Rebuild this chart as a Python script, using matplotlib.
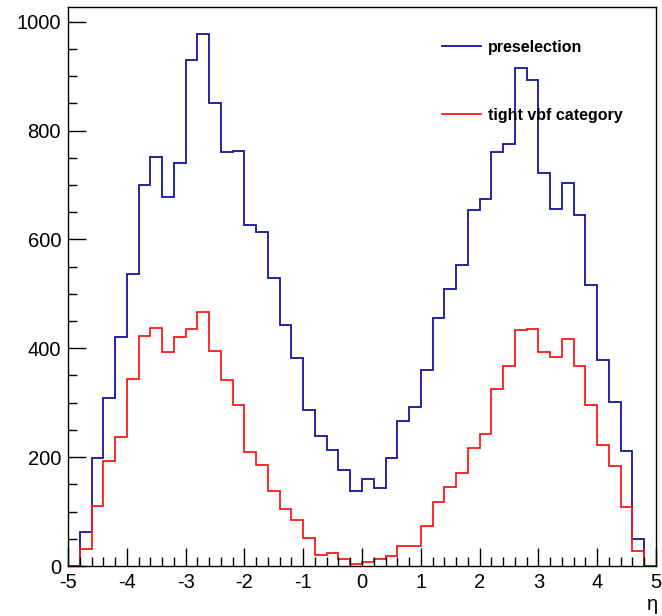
import numpy as np
import matplotlib
matplotlib.use("Agg")
import matplotlib.pyplot as plt
from matplotlib.ticker import MultipleLocator

plt.rcParams['font.family'] = ['Liberation Sans', 'DejaVu Sans']
plt.rcParams['axes.unicode_minus'] = False

# Bin edges: 50 bins of width 0.2 from -5 to 5
bin_edges = np.linspace(-5.0, 5.0, 51)

preselection = [0, 63, 199, 308, 420, 537, 700, 752, 678, 741,
                929, 978, 850, 760, 763, 626, 613, 529, 442, 382,
                286, 238, 213, 176, 137, 160, 144, 199, 267, 292,
                360, 455, 509, 553, 654, 675, 760, 776, 915, 892,
                722, 656, 703, 645, 517, 379, 302, 212, 49, 0]

tight_vbf = [0, 32, 110, 192, 237, 343, 422, 438, 393, 420,
             436, 466, 395, 341, 296, 209, 185, 137, 104, 85,
             52, 20, 23, 13, 4, 7, 13, 18, 37, 37,
             73, 117, 146, 170, 217, 242, 325, 368, 433, 436,
             393, 384, 417, 368, 296, 223, 184, 108, 28, 0]

series_labels = ["preselection", "tight vbf category"]
x_label = "η"

W, H = 662, 616
fig = plt.figure(figsize=(W / 100, H / 100), dpi=100)
ax = fig.add_axes([68 / W, 1 - 566 / H, (656 - 68) / W, (566 - 7) / H])

ax.stairs(preselection, bin_edges, baseline=0, color='#14149e', lw=1.3,
          label=series_labels[0])
ax.stairs(tight_vbf, bin_edges, baseline=0, color='#ff1a1a', lw=1.3,
          label=series_labels[1])

ax.set_xlim(-5, 5)
ax.set_ylim(0, 1027)

ax.xaxis.set_major_locator(MultipleLocator(1))
ax.xaxis.set_minor_locator(MultipleLocator(0.2))
ax.yaxis.set_major_locator(MultipleLocator(200))
ax.yaxis.set_minor_locator(MultipleLocator(50))

ax.tick_params(which='both', direction='in', top=False, right=False,
               width=1.0, color='black', labelsize=14.5)
ax.tick_params(which='major', length=13)
ax.tick_params(which='minor', length=6.5)
ax.tick_params(axis='y', which='major', pad=5)
ax.tick_params(axis='x', which='major', pad=5)

for s in ax.spines.values():
    s.set_linewidth(1.0)
    s.set_color('black')

leg = ax.legend(loc='upper left', bbox_to_anchor=(442 / W, 1 - 40 / H),
                bbox_transform=fig.transFigure, frameon=False,
                prop={'weight': 'bold', 'size': 11.5},
                handlelength=2.45, handletextpad=0.45,
                labelspacing=3.3, borderpad=0, borderaxespad=0)

fig.text(658 / W, 1 - 604 / H, x_label, ha='right', va='center', fontsize=14.5)

fig.savefig("out.png", dpi=100)
